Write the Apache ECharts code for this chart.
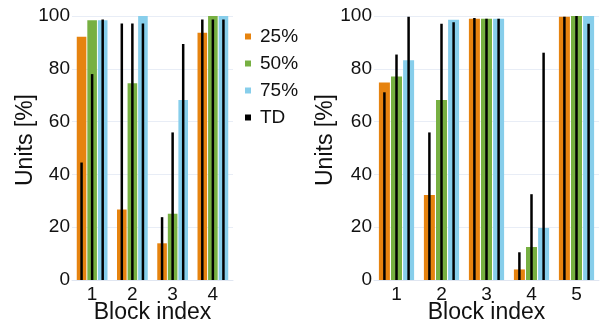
<!DOCTYPE html>
<html><head><meta charset="utf-8">
<script src="https://cdn.jsdelivr.net/npm/echarts@6/dist/echarts.min.js"></script>
<style>html,body{margin:0;padding:0;background:#fff}#c{width:604px;height:324px}</style>
</head><body><div id="c"></div>
<script>
const leftCats = ['1','2','3','4'];
const rightCats = ['1','2','3','4','5'];
const seriesNames = ['25%','50%','75%'];
const colors = ['#E6830F','#77B042','#87CEEB'];
// left panel
const left25 = [92.1, 26.7, 13.9, 93.7];
const left50 = [98.4, 74.5, 25.1, 100];
const left75 = [98.4, 100, 68.2, 100];
const leftTD25 = [44.5, 97.2, 23.8, 98.7];
const leftTD50 = [78.0, 97.2, 55.9, 98.7];
const leftTD75 = [98.7, 97.2, 89.4, 98.7];
// right panel
const right25 = [74.8, 32.2, 99.0, 4.0, 99.7];
const right50 = [77.1, 68.2, 99.0, 12.5, 100];
const right75 = [83.2, 98.6, 99.0, 19.7, 100];
const rightTD25 = [71.1, 55.9, 99.2, 10.5, 99.7];
const rightTD50 = [85.4, 97.1, 99.0, 32.5, 100];
const rightTD75 = [99.7, 97.6, 99.0, 86.1, 97.1];
const yTicks = [0, 20, 40, 60, 80, 100];

const font = 'Liberation Sans';
const chart = echarts.init(document.getElementById('c'), null, {renderer:'canvas'});

function xAxis(gi, cats){
  return {type:'category', gridIndex:gi, data:cats,
    axisLine:{lineStyle:{color:'#e0e6f1'}}, axisTick:{show:false},
    axisLabel:{color:'#111', fontSize:19, fontFamily:font, margin:5},
    name:'Block index', nameLocation:'middle', nameGap:21, nameMoveOverlap:false,
    nameTextStyle:{color:'#111', fontSize:23, fontFamily:font, verticalAlign:'top'}};
}
function yAxis(gi, gap){
  return {type:'value', gridIndex:gi, min:0, max:100, interval:20,
    axisLabel:{color:'#111', fontSize:19, fontFamily:font, margin:2,
      formatter:v=>String(yTicks[yTicks.indexOf(v)])},
    splitLine:{lineStyle:{color:'#e8edf6'}},
    name:'Units [%]', nameLocation:'middle', nameGap:gap, nameMoveOverlap:false,
    nameTextStyle:{color:'#111', fontSize:23, fontFamily:font, padding:[0,0,0,16]}};
}
const series = [];
function addPanel(gi, vals, tds, bw){
  vals.forEach((v,i)=>{
    series.push({type:'bar', name:seriesNames[i], xAxisIndex:gi, yAxisIndex:gi,
      data:v, barWidth:bw, barGap:'10%', itemStyle:{color:colors[i]}, z:2});
  });
  tds.forEach((v,i)=>{
    series.push({type:'pictorialBar', name:'TD', xAxisIndex:gi, yAxisIndex:gi,
      data:v, barWidth:bw, barGap:'10%', symbol:'rect', symbolSize:[2.5,'100%'],
      symbolPosition:'start', itemStyle:{color:'#000'}, z:5});
  });
}
addPanel(0, [left25,left50,left75], [leftTD25,leftTD50,leftTD75], 9.6);
addPanel(1, [right25,right50,right75], [rightTD25,rightTD50,rightTD75], 11);

chart.setOption({
  animation:false,
  grid:[{left:72, right:371, top:16, bottom:44, outerBoundsMode:'none', containLabel:false},
        {left:374, right:5, top:16, bottom:44, outerBoundsMode:'none', containLabel:false}],
  xAxis:[xAxis(0,leftCats), xAxis(1,rightCats)],
  yAxis:[yAxis(0,35), yAxis(1,37)],
  legend:{orient:'vertical', left:240, top:22, itemGap:8, itemWidth:6, itemHeight:6,
    textStyle:{color:'#111', fontSize:19, fontFamily:font, padding:[0,0,0,4]},
    data:[{name:'25%',icon:'rect'},{name:'50%',icon:'rect'},{name:'75%',icon:'rect'},{name:'TD',icon:'rect',itemStyle:{color:'#000'}}]},
  series
});
</script></body></html>
